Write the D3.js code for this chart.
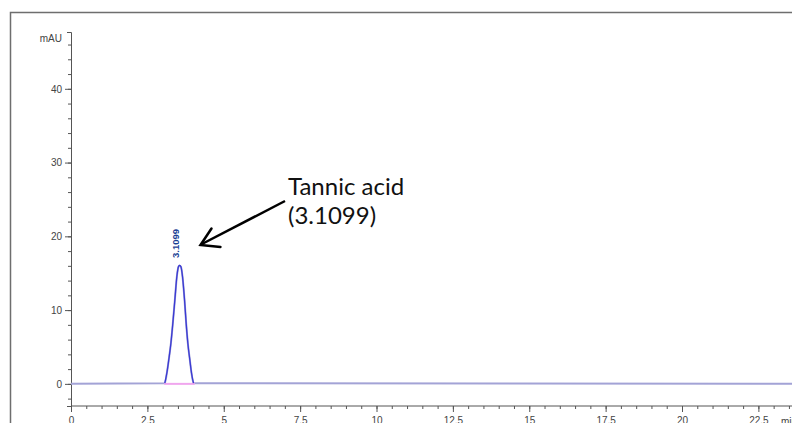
<!DOCTYPE html>
<html>
<head>
<meta charset="utf-8">
<script src="https://cdn.jsdelivr.net/npm/d3@7/dist/d3.min.js"></script>
<style>
  body { margin: 0; background: #fff; }
  svg { display: block; }
</style>
</head>
<body>
<svg></svg>
<script>
// chromatogram trace (min, mAU)
const traceTime   = [0, 3.07, 3.137, 3.20, 3.27, 3.333, 3.40, 3.465, 3.52, 3.55, 3.596, 3.65, 3.716, 3.77, 3.825, 3.89, 3.945, 4.01, 25];
const traceSignal = [0, 0.1,  1.45,  3.25, 5.5,  8.2,   11.4, 14.55, 15.9, 16.05, 15.9, 14.55, 11.4, 8.2,  5.5,   3.25, 1.45,  0.1,  0];
// integration baseline under the peak
const baseTime = [3.05, 4.05];
const baseSignal = [0, 0];
const peakRT = 3.55;
const peakLabel = "3.1099";
const xTicks = [0, 2.5, 5, 7.5, 10, 12.5, 15, 17.5, 20, 22.5];
const yTicks = [0, 10, 20, 30, 40];

const w = 792, h = 423;
const svg = d3.select("svg").attr("width", w).attr("height", h);

// outer frame (right and bottom run off the page)
svg.append("rect")
  .attr("x", 10.5).attr("y", 12.5)
  .attr("width", 900).attr("height", 500)
  .attr("fill", "none").attr("stroke", "#6e6e6e").attr("stroke-width", 1.5);

let x = d3.scaleLinear().domain([0, 25]).range([71, 71 + 25 * 30.55]);
let y = d3.scaleLinear().domain([-3, 47.7]).range([406, 32]);

const axisColor = "#555";

// y axis: minors every 2, majors every 10
let yMinor = d3.axisLeft(y).tickValues(d3.range(-2, 47, 2)).tickSize(3).tickSizeOuter(4).tickFormat("");
let yMajor = d3.axisLeft(y).tickValues(yTicks).tickSize(6).tickSizeOuter(0).tickPadding(3);
let yg1 = svg.append("g").attr("transform", "translate(71,0)").call(yMinor);
let yg2 = svg.append("g").attr("transform", "translate(71,0)").call(yMajor);
yg2.select(".domain").remove();

// x axis: minors every 0.5, majors every 2.5
let xMinor = d3.axisBottom(x).tickValues(d3.range(0.5, 25, 0.5)).tickSize(3).tickSizeOuter(0).tickFormat("");
let xMajor = d3.axisBottom(x).tickValues(xTicks).tickSize(6).tickSizeOuter(0).tickPadding(5)
  .tickFormat(d => String(d));
let xg1 = svg.append("g").attr("transform", "translate(0,406)").call(xMinor);
let xg2 = svg.append("g").attr("transform", "translate(0,406)").call(xMajor);
xg2.select(".domain").remove();
xg1.select(".domain").attr("d", `M71,0H${w + 20}`);

svg.selectAll(".tick line, .domain").attr("stroke", axisColor);
svg.selectAll(".tick text")
  .attr("fill", "#444")
  .style("font-family", "Arial, 'Liberation Sans', sans-serif")
  .style("font-size", "10px");

svg.append("text")
  .text("mAU")
  .attr("x", 62).attr("y", 42)
  .attr("text-anchor", "end")
  .attr("fill", "#444")
  .style("font-family", "Arial, 'Liberation Sans', sans-serif")
  .style("font-size", "10px");

svg.append("text")
  .text("min")
  .attr("x", 781).attr("y", 425)
  .attr("fill", "#444")
  .style("font-family", "Arial, 'Liberation Sans', sans-serif")
  .style("font-size", "10px");

// trace
const pts = traceTime.map((t, i) => [t, traceSignal[i]]);
const line = d3.line().x(d => x(d[0])).y(d => y(d[1])).curve(d3.curveMonotoneX);

svg.append("path")
  .attr("d", line(pts))
  .attr("fill", "none").attr("stroke", "#a3a3d6").attr("stroke-width", 2);

svg.append("path")
  .attr("d", line(baseTime.map((t, i) => [t, baseSignal[i]])))
  .attr("fill", "none").attr("stroke", "#f0a6ee").attr("stroke-width", 2);

svg.append("path")
  .attr("d", line(pts.slice(1, -1)))
  .attr("fill", "none").attr("stroke", "#3a3ad4").attr("stroke-width", 1.3);

// retention time label on the peak
svg.append("text")
  .text(peakLabel)
  .attr("transform", `translate(${x(peakRT) - 0.5},258) rotate(-90)`)
  .attr("fill", "#1c3f94")
  .style("font-family", "Arial, 'Liberation Sans', sans-serif")
  .style("font-size", "9.5px")
  .style("font-weight", "bold");

// annotation
const note = svg.append("text")
  .attr("x", 288).attr("y", 195)
  .attr("fill", "#111")
  .style("font-family", "Lato, sans-serif")
  .style("font-size", "24px");
note.append("tspan").attr("x", 288).text("Tannic acid");
note.append("tspan").attr("x", 288).attr("dy", 29).text("(3.1099)");

svg.append("line")
  .attr("x1", 285).attr("y1", 201)
  .attr("x2", 201).attr("y2", 244.5)
  .attr("stroke", "#000").attr("stroke-width", 2.5);
svg.append("path")
  .attr("d", "M211.5,228.5 L200.5,245 L220.5,247")
  .attr("fill", "none").attr("stroke", "#000").attr("stroke-width", 2.5)
  .attr("stroke-linecap", "round").attr("stroke-linejoin", "miter");
</script>
</body>
</html>
